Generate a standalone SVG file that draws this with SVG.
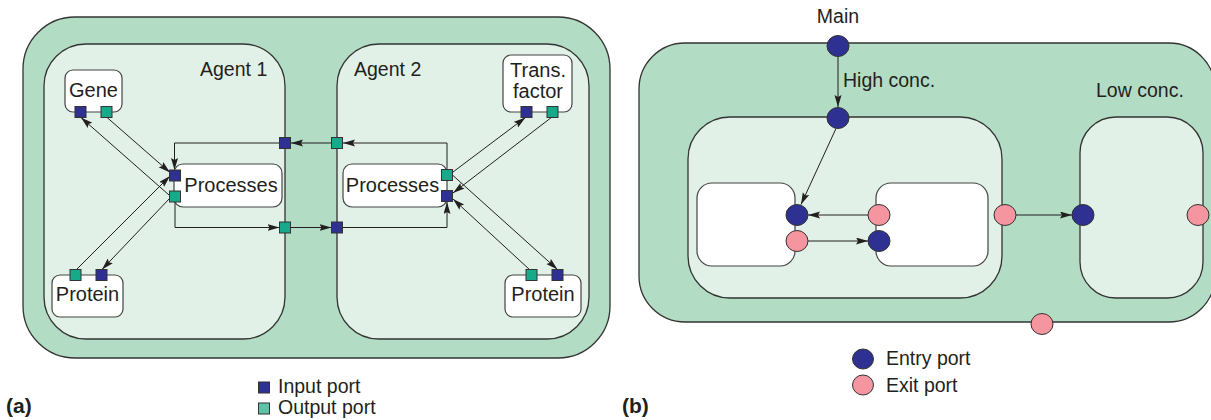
<svg xmlns="http://www.w3.org/2000/svg" width="1211" height="420" viewBox="0 0 1211 420">
<defs>
<style>
text{font-family:"Liberation Sans",Arial,sans-serif;fill:#231f20;}
.outer{fill:#b3dcc4;stroke:#333;stroke-width:1.3;}
.inner{fill:#e1f1e7;stroke:#333;stroke-width:1.3;}
.box{fill:#fff;stroke:#444;stroke-width:1.2;}
.in{fill:#2e3192;stroke:#333;stroke-width:1;}
.out{fill:#16a98a;stroke:#333;stroke-width:1;}
.exit{fill:#f4959f;stroke:#333;stroke-width:1;}
.ln{fill:none;stroke:#231f20;stroke-width:1;marker-end:url(#ah);}
.lbl{font-size:20px;}
.big{font-size:19.5px;}
.tag{font-size:21px;font-weight:bold;}
</style>
<marker id="ah" markerUnits="userSpaceOnUse" markerWidth="13" markerHeight="8" refX="12" refY="3.5" orient="auto">
<path d="M0,0 L12,3.5 L0,7 L2,3.5 z" fill="#231f20"/>
</marker>
</defs>

<!-- Panel (a) -->
<g id="cell-a"><rect class="outer" x="23" y="17" width="587" height="341" rx="52"/></g>
<g id="agent1"><rect class="inner" x="44" y="44" width="241" height="295" rx="42"/><text class="big" x="200" y="76">Agent 1</text></g>
<g id="agent2"><rect class="inner" x="337" y="44" width="252" height="295" rx="42"/><text class="big" x="354" y="76">Agent 2</text></g>

<g id="connectors-a">
<path class="ln" d="M106.5,117 L170,172.5"/>
<path class="ln" d="M169,195 L81,117.5"/>
<path class="ln" d="M76,270 L170,176"/>
<path class="ln" d="M170,198 L102,269.5"/>
<path class="ln" d="M453,172 L525.5,117.5"/>
<path class="ln" d="M552,117 L453,193"/>
<path class="ln" d="M453,175.5 L557.5,269.5"/>
<path class="ln" d="M530,270 L453,199"/>
<path class="ln" d="M447,170 V143 H343"/>
<path class="ln" d="M331.5,143 H291"/>
<path class="ln" d="M279.5,143 H174.5 V170"/>
<path class="ln" d="M175,202 V227.5 H279.5"/>
<path class="ln" d="M291,227.5 H331.5"/>
<path class="ln" d="M343,227.5 H447 V202"/>
</g>

<g id="gene"><rect class="box" x="65" y="70" width="57" height="42" rx="8"/><text class="lbl" x="93.5" y="97" text-anchor="middle">Gene</text>
<rect class="in" x="75" y="106.5" width="11" height="11"/><rect class="out" x="101" y="106.5" width="11" height="11"/></g>
<g id="processes1"><rect class="box" x="174" y="164" width="108" height="43" rx="9"/><text class="lbl" x="231" y="192" text-anchor="middle">Processes</text>
<rect class="in" x="169.5" y="170" width="11" height="11"/><rect class="out" x="169.5" y="191" width="11" height="11"/></g>
<g id="protein1"><rect class="box" x="52" y="275" width="71" height="42" rx="8"/><text class="lbl" x="87.5" y="301" text-anchor="middle">Protein</text>
<rect class="out" x="70" y="269.5" width="11" height="11"/><rect class="in" x="96" y="269.5" width="11" height="11"/></g>
<g id="transfactor"><rect class="box" x="503" y="55" width="69" height="57" rx="8"/><text class="lbl" x="538" y="77" text-anchor="middle">Trans.</text><text class="lbl" x="538" y="98" text-anchor="middle">factor</text>
<rect class="in" x="521" y="106.5" width="11" height="11"/><rect class="out" x="547" y="106.5" width="11" height="11"/></g>
<g id="processes2"><rect class="box" x="343" y="164" width="104" height="43" rx="9"/><text class="lbl" x="392.5" y="192" text-anchor="middle">Processes</text>
<rect class="out" x="441.5" y="169.5" width="11" height="11"/><rect class="in" x="441.5" y="190.5" width="11" height="11"/></g>
<g id="protein2"><rect class="box" x="505" y="275" width="76" height="42" rx="8"/><text class="lbl" x="543" y="301" text-anchor="middle">Protein</text>
<rect class="out" x="526" y="269.5" width="11" height="11"/><rect class="in" x="552" y="269.5" width="11" height="11"/></g>
<g id="boundary-ports">
<rect class="in" x="279.5" y="137.5" width="11" height="11"/>
<rect class="out" x="331.5" y="137.5" width="11" height="11"/>
<rect class="out" x="279.5" y="222" width="11" height="11"/>
<rect class="in" x="331.5" y="222" width="11" height="11"/>
</g>

<g id="legend-a">
<rect class="in" x="258.5" y="382" width="11" height="11"/><text class="big" x="278" y="393">Input port</text>
<rect fill="#5ec4a8" stroke="#333" stroke-width="1" x="258.5" y="403" width="11" height="11"/><text class="big" x="278" y="414">Output port</text>
<text class="tag" x="6" y="413">(a)</text>
</g>

<!-- Panel (b) -->
<g id="main"><rect class="outer" x="639" y="43" width="576" height="279" rx="46"/><text class="big" x="838" y="23" text-anchor="middle">Main</text></g>
<g id="highconc"><rect class="inner" x="688" y="117" width="314" height="181" rx="42"/><text class="big" x="843" y="87">High conc.</text></g>
<g id="lowconc"><rect class="inner" x="1080" y="117" width="123" height="181" rx="36"/><text class="big" x="1096" y="97">Low conc.</text></g>
<g id="sub1"><rect class="box" x="697" y="183" width="98" height="83" rx="15"/></g>
<g id="sub2"><rect class="box" x="876" y="183" width="112" height="83" rx="15"/></g>

<g id="connectors-b">
<path class="ln" d="M838,56.5 V107"/>
<path class="ln" d="M836,128.5 L801,204.5"/>
<path class="ln" d="M868,215 H808"/>
<path class="ln" d="M808,241 H868"/>
<path class="ln" d="M1016,215 H1072"/>
</g>

<g id="ports-b">
<ellipse class="in" cx="838" cy="46" rx="11" ry="10.5"/>
<ellipse class="in" cx="838" cy="118" rx="11" ry="10.5"/>
<ellipse class="in" cx="797" cy="215" rx="11" ry="10.5"/>
<ellipse class="exit" cx="797" cy="241" rx="11" ry="10.5"/>
<ellipse class="exit" cx="879" cy="215" rx="11" ry="10.5"/>
<ellipse class="in" cx="879" cy="241" rx="11" ry="10.5"/>
<ellipse class="exit" cx="1005" cy="215" rx="11" ry="10.5"/>
<ellipse class="in" cx="1083" cy="215" rx="11" ry="10.5"/>
<ellipse class="exit" cx="1198" cy="215" rx="11" ry="10.5"/>
<ellipse class="exit" cx="1042" cy="324" rx="11" ry="10.5"/>
</g>

<g id="legend-b">
<ellipse class="in" cx="863" cy="359" rx="10.5" ry="10"/><text class="big" x="886" y="365">Entry port</text>
<ellipse class="exit" cx="863" cy="385" rx="10.5" ry="10"/><text class="big" x="886" y="392">Exit port</text>
<text class="tag" x="622" y="413">(b)</text>
</g>
</svg>
